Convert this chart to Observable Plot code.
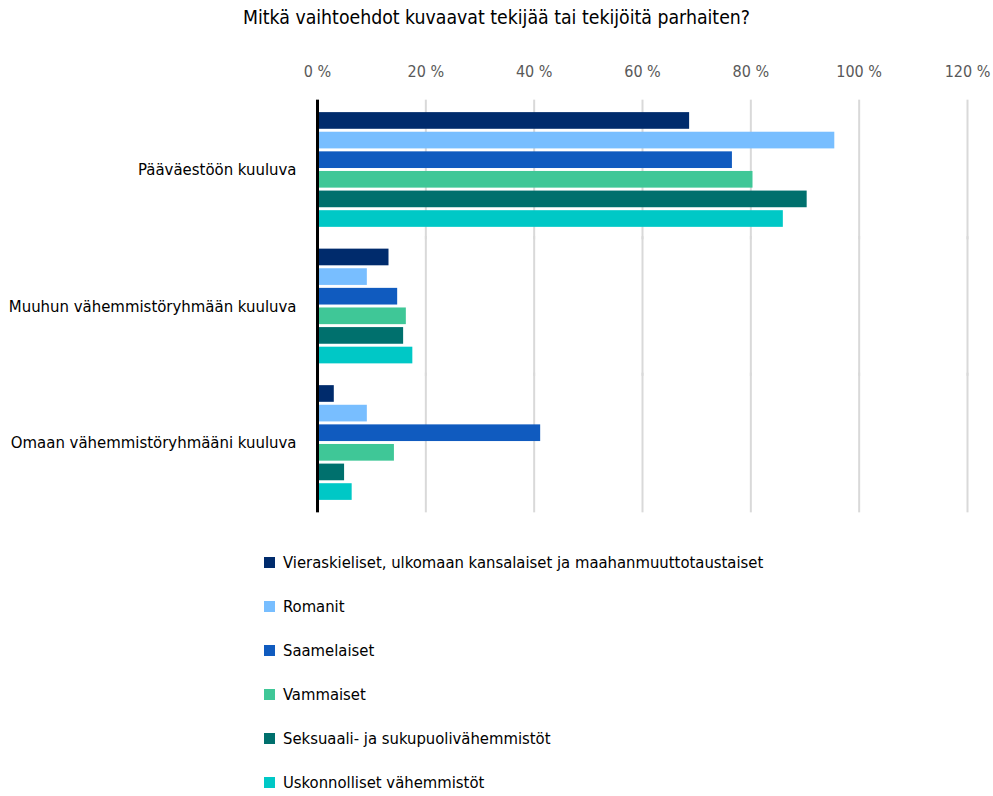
<!DOCTYPE html>
<html><head><meta charset="utf-8">
<script src="https://cdn.jsdelivr.net/npm/d3@7"></script>
<script src="https://cdn.jsdelivr.net/npm/@observablehq/plot@0.6"></script>
<style>
body{margin:0;background:#fff;font-family:"DejaVu Sans",sans-serif;font-stretch:condensed;}
#title{height:40px;line-height:36px;text-align:center;font-size:19.3px;color:#000;}
#legend{margin-top:20px;padding-left:264px;}
.item{height:44px;display:flex;align-items:center;font-size:16.5px;color:#000;}
.sw{width:11px;height:11px;margin-right:8px;flex:none;}
svg text{font-stretch:condensed;}
</style></head><body>
<div id="title">Mitkä vaihtoehdot kuvaavat tekijää tai tekijöitä parhaiten?</div>
<div id="chart"></div>
<div id="legend"></div>
<script>
const categories = ["Pääväestöön kuuluva", "Muuhun vähemmistöryhmään kuuluva", "Omaan vähemmistöryhmääni kuuluva"];
const series = ["Vieraskieliset, ulkomaan kansalaiset ja maahanmuuttotaustaiset", "Romanit", "Saamelaiset", "Vammaiset", "Seksuaali- ja sukupuolivähemmistöt", "Uskonnolliset vähemmistöt"];
const colors = ["#002B6C", "#78BEFF", "#105BBF", "#3FC797", "#00706D", "#00C8C6"];
const vieraskieliset = [68.7, 13.2, 3.1];
const romanit = [95.5, 9.2, 9.2];
const saamelaiset = [76.6, 14.8, 41.2];
const vammaiset = [80.4, 16.4, 14.2];
const seksuaali = [90.4, 15.9, 5.0];
const uskonnolliset = [86.0, 17.6, 6.4];
const xTicks = [0, 20, 40, 60, 80, 100, 120];

const values = [vieraskieliset, romanit, saamelaiset, vammaiset, seksuaali, uskonnolliset];
const data = [];
series.forEach((s, i) => categories.forEach((c, j) => data.push({category: c, series: s, value: values[i][j]})));

const font = '"DejaVu Sans",sans-serif';
const ext = -11;
const chart = Plot.plot({
  width: 993, height: 480,
  marginTop: 60, marginBottom: 8, marginLeft: 317, marginRight: 26,
  style: {fontFamily: font, fontSize: "16.6px", color: "#000", background: "#fff"},
  x: {domain: [0, 120], ticks: xTicks, tickFormat: d => d + " %", axis: "top", tickSize: 0, tickPadding: 34, label: null},
  fy: {domain: categories, paddingInner: 0.138, paddingOuter: 0.078, round: false, axis: "left", tickSize: 0, tickPadding: 21, label: null},
  y: {domain: series, axis: null, paddingInner: 0.15, paddingOuter: 0.075, round: false},
  color: {domain: series, range: colors},
  marks: [
    Plot.ruleX(xTicks.slice(1), {stroke: "#d9d9d9", strokeWidth: 2, insetTop: ext, insetBottom: ext}),
    Plot.barX(data, {x: "value", y: "series", fy: "category", fill: "series"}),
    Plot.ruleX([0], {stroke: "#000", strokeWidth: 3, insetTop: ext, insetBottom: ext})
  ]
});
d3.select(chart).selectAll("[aria-label='x-axis tick label'] text").attr("fill", "#595959").style("font-size", "16px");
document.getElementById("chart").appendChild(chart);

const legend = d3.select("#legend");
series.forEach((s, i) => {
  const it = legend.append("div").attr("class", "item");
  it.append("div").attr("class", "sw").style("background", colors[i]);
  it.append("span").text(s);
});
</script>
</body></html>
